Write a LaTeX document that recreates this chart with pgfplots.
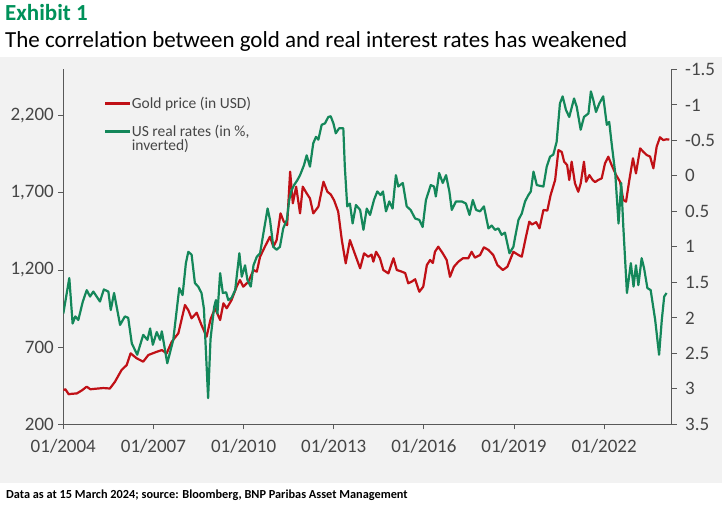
\documentclass[border=0pt]{standalone}
\usepackage{pgfplots}
\pgfplotsset{compat=1.18}
\usepackage{fontspec}
\setmainfont{Carlito}
\definecolor{bggray}{RGB}{242,242,242}
\definecolor{goldred}{RGB}{192,16,22}
\definecolor{rategreen}{RGB}{20,135,90}
\definecolor{titlegreen}{RGB}{0,145,90}
\definecolor{axisgray}{RGB}{89,89,89}
\definecolor{labelgray}{RGB}{70,70,70}

\begin{document}
\begin{tikzpicture}
\useasboundingbox (0pt,0pt) rectangle (725pt,-505pt);
\fill[bggray] (0pt,-57pt) rectangle (722pt,-483pt);
\node[anchor=base west, inner sep=0, text=titlegreen, font=\fontsize{23}{26}\selectfont\bfseries] at (5pt,-21pt) {Exhibit 1};
\node[anchor=base west, inner sep=0, font=\fontsize{23}{26}\selectfont] at (5pt,-48pt) {The correlation between gold and real interest rates has weakened};
\node[anchor=base west, inner sep=0, font=\fontsize{12.3}{15}\selectfont\bfseries] at (6pt,-498pt) {Data as at 15 March 2024; source: Bloomberg, BNP Paribas Asset Management};

\begin{axis}[
  at={(63.3pt,-424.3pt)}, anchor=south west,
  width=608.4pt, height=354.9pt, scale only axis,
  xmin=2004, xmax=2024.25,
  ymin=200, ymax=2500,
  axis x line*=bottom, axis y line*=left,
  axis line style={-, draw=axisgray, line width=0.8pt},
  xtick={2004,2007,2010,2013,2016,2019,2022},
  xticklabels={01/2004,01/2007,01/2010,01/2013,01/2016,01/2019,01/2022},
  ytick={200,700,1200,1700,2200},
  yticklabels={200,700,{1,200},{1,700},{2,200}},
  tick align=outside, major tick length=5pt,
  tick style={draw=axisgray, line width=0.8pt},
  ticklabel style={font=\fontsize{19}{22}\selectfont, text=labelgray},
  xticklabel style={yshift=-6pt},
  yticklabel style={xshift=-1pt},
  legend image code/.code={\draw[#1] (0pt,0pt) -- (25pt,0pt);},
  legend style={at={(0.062,0.93)}, anchor=north west, draw=none, fill=none,
    font=\fontsize{15.5}{16.5}\selectfont, text=labelgray, row sep=0pt,
    nodes={inner sep=0.5pt}, column sep=0pt},
  legend cell align=left,
]
\addplot[goldred, line width=2.2pt, line join=round] coordinates {
(2004.00,422) (2004.07,427) (2004.18,395) (2004.30,398) (2004.45,400) (2004.62,420)
(2004.78,444) (2004.90,427) (2005.05,430) (2005.33,435) (2005.55,432) (2005.72,476)
(2005.94,552) (2006.11,584) (2006.24,660) (2006.44,628) (2006.66,606) (2006.83,649)
(2007.11,670) (2007.28,681) (2007.44,660) (2007.61,735) (2007.83,790) (2008.05,973)
(2008.16,940) (2008.27,887) (2008.44,923) (2008.60,843) (2008.77,768) (2008.90,880)
(2009.05,952) (2009.22,876) (2009.33,984) (2009.44,952) (2009.60,1005) (2009.77,1092)
(2009.88,1135) (2009.99,1092) (2010.16,1124) (2010.33,1200) (2010.44,1189) (2010.55,1286)
(2010.71,1351) (2010.88,1416) (2010.99,1351) (2011.10,1394) (2011.23,1567) (2011.34,1513)
(2011.45,1491) (2011.55,1837) (2011.64,1632) (2011.75,1740) (2011.88,1567) (2011.97,1740)
(2012.10,1697) (2012.21,1664) (2012.32,1567) (2012.49,1610) (2012.66,1772) (2012.79,1707)
(2012.90,1690) (2013.01,1653) (2013.15,1578) (2013.27,1394) (2013.40,1243) (2013.54,1394)
(2013.68,1318) (2013.88,1211) (2014.01,1308) (2014.15,1286) (2014.26,1300) (2014.32,1254)
(2014.41,1318) (2014.54,1276) (2014.65,1200) (2014.82,1178) (2014.99,1276) (2015.10,1200)
(2015.27,1189) (2015.38,1180) (2015.48,1114) (2015.60,1125) (2015.71,1140) (2015.85,1059)
(2015.98,1092) (2016.10,1232) (2016.21,1265) (2016.30,1245) (2016.37,1318) (2016.48,1351)
(2016.63,1308) (2016.76,1265) (2016.87,1156) (2017.00,1221) (2017.15,1254) (2017.30,1276)
(2017.48,1276) (2017.59,1318) (2017.70,1280) (2017.87,1297) (2018.00,1347) (2018.15,1330)
(2018.31,1297) (2018.45,1232) (2018.63,1200) (2018.78,1221) (2018.98,1318) (2019.15,1297)
(2019.26,1286) (2019.40,1416) (2019.51,1513) (2019.60,1495) (2019.74,1510) (2019.85,1470)
(2019.98,1589) (2020.11,1585) (2020.22,1686) (2020.37,1783) (2020.48,1977) (2020.59,1965)
(2020.67,1902) (2020.77,1880) (2020.84,1783) (2020.92,1902) (2021.03,1762) (2021.14,1707)
(2021.22,1760) (2021.33,1902) (2021.40,1772) (2021.51,1815) (2021.62,1783) (2021.70,1770)
(2021.80,1783) (2021.92,1794) (2022.03,1891) (2022.14,1934) (2022.25,1880) (2022.40,1815)
(2022.53,1772) (2022.64,1653) (2022.73,1643) (2022.84,1783) (2022.96,1924) (2023.06,1826)
(2023.20,1988) (2023.31,1965) (2023.42,1945) (2023.53,1935) (2023.64,1859) (2023.75,2000)
(2023.86,2060) (2023.97,2042) (2024.08,2047) (2024.17,2045)
};
\addlegendentry{\strut Gold price (in USD)}
\addlegendimage{empty legend}
\addlegendentry{\strut}
\addlegendimage{rategreen, line width=2.2pt}
\addlegendentry{\strut US real rates (in \%,}
\addlegendimage{empty legend}
\addlegendentry{\strut inverted)}
\end{axis}

\begin{axis}[
  at={(63.3pt,-424.3pt)}, anchor=south west,
  width=608.4pt, height=354.9pt, scale only axis,
  xmin=2004, xmax=2024.25,
  ymin=-1.5, ymax=3.5, y dir=reverse,
  hide x axis, axis y line*=right,
  axis line style={-, draw=axisgray, line width=0.8pt},
  ytick={-1.5,-1,-0.5,0,0.5,1,1.5,2,2.5,3,3.5},
  yticklabels={-1.5,-1,-0.5,0,0.5,1,1.5,2,2.5,3,3.5},
  tick align=outside, major tick length=5pt,
  tick style={draw=axisgray, line width=0.8pt},
  ticklabel style={font=\fontsize{19}{22}\selectfont, text=labelgray},
  yticklabel style={xshift=5pt},
]
\addplot[rategreen, line width=2.2pt, line join=round] coordinates {
(2004.00,1.94) (2004.20,1.44) (2004.31,2.08) (2004.40,1.98) (2004.50,2.03) (2004.65,1.77)
(2004.78,1.61) (2004.89,1.70) (2005.00,1.63) (2005.22,1.77) (2005.35,1.60) (2005.50,1.63)
(2005.58,1.89) (2005.69,1.65) (2005.89,2.10) (2006.05,1.98) (2006.16,2.00) (2006.28,2.36)
(2006.46,2.52) (2006.66,2.24) (2006.80,2.31) (2006.89,2.15) (2006.98,2.38) (2007.11,2.20)
(2007.22,2.31) (2007.28,2.19) (2007.46,2.64) (2007.66,2.31) (2007.86,1.58) (2007.97,1.68)
(2008.08,1.23) (2008.16,1.07) (2008.27,1.11) (2008.38,1.51) (2008.49,1.56) (2008.60,1.65)
(2008.68,1.87) (2008.82,3.13) (2008.90,2.30) (2009.02,1.85) (2009.08,1.75) (2009.13,1.94)
(2009.22,1.37) (2009.31,1.65) (2009.42,1.64) (2009.49,1.75) (2009.60,1.72) (2009.72,1.61)
(2009.86,1.09) (2009.94,1.42) (2010.05,1.26) (2010.13,1.47) (2010.24,1.56) (2010.33,1.26)
(2010.44,1.14) (2010.55,1.09) (2010.66,0.81) (2010.80,0.46) (2010.88,0.62) (2010.99,1.00)
(2011.10,1.04) (2011.21,1.00) (2011.32,0.74) (2011.44,0.62) (2011.52,0.34) (2011.60,0.20)
(2011.68,0.13) (2011.79,0.06) (2011.88,-0.01) (2012.01,-0.15) (2012.10,-0.29) (2012.21,-0.13)
(2012.32,-0.46) (2012.41,-0.55) (2012.49,-0.51) (2012.60,-0.72) (2012.71,-0.74) (2012.82,-0.83)
(2012.90,-0.84) (2012.99,-0.74) (2013.07,-0.60) (2013.18,-0.67) (2013.32,-0.67) (2013.37,-0.13)
(2013.45,0.43) (2013.54,0.39) (2013.63,0.67) (2013.74,0.41) (2013.88,0.48) (2013.99,0.76)
(2014.10,0.46) (2014.21,0.55) (2014.34,0.34) (2014.45,0.22) (2014.56,0.27) (2014.64,0.22)
(2014.74,0.50) (2014.85,0.36) (2014.96,0.46) (2015.07,-0.01) (2015.15,0.15) (2015.30,0.10)
(2015.43,0.43) (2015.56,0.48) (2015.71,0.60) (2015.85,0.62) (2015.96,0.72) (2016.07,0.34)
(2016.23,0.13) (2016.34,0.15) (2016.40,0.29) (2016.51,-0.04) (2016.63,0.10) (2016.74,-0.01)
(2016.85,0.22) (2016.93,0.48) (2017.07,0.36) (2017.26,0.36) (2017.40,0.39) (2017.52,0.55)
(2017.63,0.34) (2017.74,0.48) (2017.87,0.50) (2018.00,0.43) (2018.15,0.74) (2018.26,0.70)
(2018.37,0.76) (2018.48,0.74) (2018.59,0.83) (2018.70,0.80) (2018.85,1.09) (2018.98,1.00)
(2019.04,0.86) (2019.15,0.62) (2019.26,0.53) (2019.37,0.36) (2019.48,0.27) (2019.56,0.22)
(2019.65,-0.06) (2019.76,0.13) (2019.98,0.15) (2020.09,-0.13) (2020.20,-0.27) (2020.31,-0.30)
(2020.42,-0.48) (2020.53,-1.02) (2020.62,-1.12) (2020.73,-0.93) (2020.84,-0.83) (2021.00,-1.09)
(2021.09,-0.97) (2021.22,-0.65) (2021.33,-0.83) (2021.48,-0.88) (2021.56,-1.19) (2021.64,-1.07)
(2021.73,-0.90) (2021.84,-1.02) (2021.97,-1.12) (2022.09,-0.72) (2022.17,-0.76) (2022.25,-0.46)
(2022.37,-0.04) (2022.48,0.67) (2022.57,0.10) (2022.64,0.72) (2022.76,1.65) (2022.89,1.23)
(2022.98,1.56) (2023.06,1.26) (2023.14,1.54) (2023.25,1.16) (2023.33,1.30) (2023.44,1.58)
(2023.55,1.61) (2023.70,2.03) (2023.83,2.52) (2023.92,2.03) (2024.00,1.70) (2024.08,1.65)
};
\end{axis}
\end{tikzpicture}
\end{document}
